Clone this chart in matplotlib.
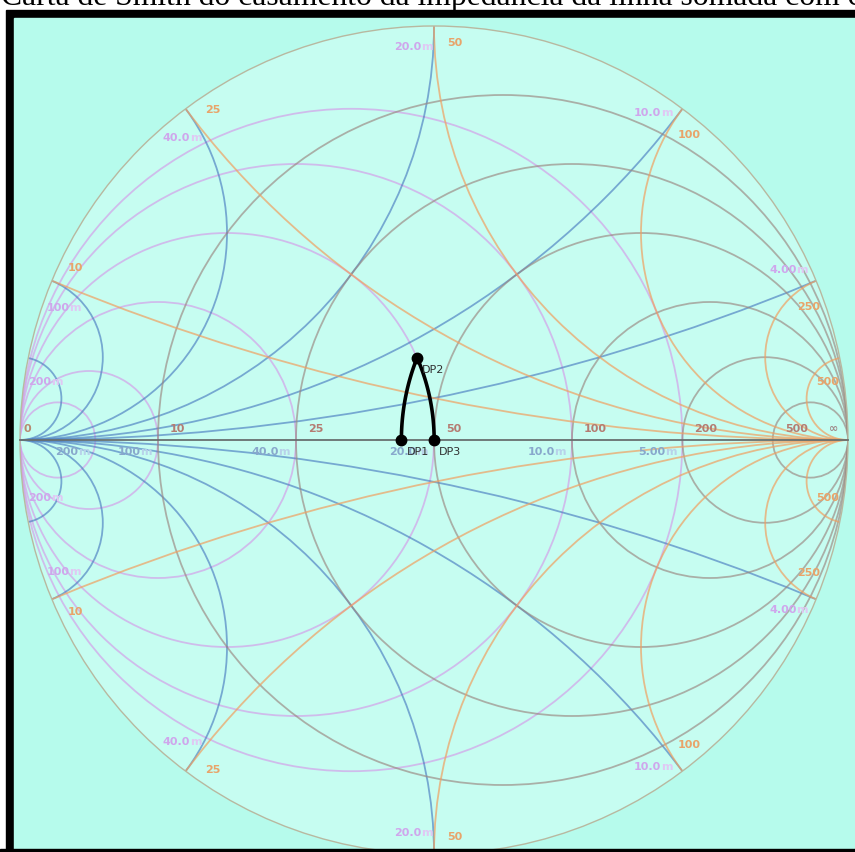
import numpy as np
import matplotlib.pyplot as plt
from matplotlib.patches import Circle, Rectangle
from matplotlib.offsetbox import TextArea, HPacker, AnnotationBbox

Z0 = 50.0

# impedance grid (ohm)
res_ohm = [10, 25, 50, 100, 200, 500]
res_txt = ['10', '25', '50', '100', '200', '500']
react_ohm = [10, 25, 50, 100, 250, 500]
react_txt = ['10', '25', '50', '100', '250', '500']

# admittance grid (mS)
cond_ms = [200, 100, 40, 20, 10, 5]
cond_txt = ['200', '100', '40.0', '20.0', '10.0', '5.00']
susc_ms = [200, 100, 40, 20, 10, 4]
susc_txt = ['200', '100', '40.0', '20.0', '10.0', '4.00']

# matching path (ohm)
dp_names = ['DP1', 'DP2', 'DP3']
dp_z = [42.7 + 0j, 42.7 + 17.7j, 50 + 0j]

caption = 'Carta de Smith do casamento da impedância da linha somada com c'

W, H = 855, 852
CX, CY, R = 434, 440, 414   # chart centre and radius, pixels


def gamma(z):
    zn = np.asarray(z) / Z0
    return (zn - 1) / (zn + 1)


fig = plt.figure(figsize=(W / 100, H / 100), dpi=100)

# page behind the chart: caption and black frame
bg = fig.add_axes([0, 0, 1, 1])
bg.set_xlim(0, W)
bg.set_ylim(H, 0)
bg.axis('off')
bg.add_patch(Rectangle((6, 10), W, H, color='black'))
bg.add_patch(Rectangle((14, 18), W, 831, color='#b6fbec'))
bg.text(1, 5, caption, family='Liberation Serif', fontsize=22.8,
        ha='left', va='baseline', color='black')

ax = fig.add_axes([0, 0, 1, 1])
ax.set_xlim(-CX / R, (W - CX) / R)
ax.set_ylim(-(H - CY) / R, CY / R)
ax.axis('off')

disk = Circle((0, 0), 1, facecolor='#c6fdf1', edgecolor='none', zorder=0)
ax.add_patch(disk)


def grid_circle(cx, cy, rad, color, alpha):
    c = Circle((cx, cy), rad, fill=False, edgecolor=color, lw=1.3,
               alpha=alpha, zorder=2)
    ax.add_patch(c)
    c.set_clip_path(disk)


for g in cond_ms:
    gn = g * 1e-3 * Z0
    grid_circle(-gn / (1 + gn), 0, 1 / (1 + gn), '#d49ae8', 0.65)
for b in susc_ms:
    bn = b * 1e-3 * Z0
    for s in (1, -1):
        grid_circle(-1, s / bn, 1 / bn, '#4a7cc0', 0.65)
for r in res_ohm:
    rn = r / Z0
    grid_circle(rn / (1 + rn), 0, 1 / (1 + rn), '#9a8680', 0.65)
for x in react_ohm:
    xn = x / Z0
    for s in (1, -1):
        grid_circle(1, s / xn, 1 / xn, '#f0a060', 0.7)

ax.add_patch(Circle((0, 0), 1, fill=False, edgecolor='#b8b8a0', lw=1.0, zorder=3))
ax.plot([-1, 1], [0, 0], color='#687070', lw=1.3, zorder=3)

lab = dict(fontsize=8, fontweight='bold', family='DejaVu Sans', zorder=5)

# resistance values along the real axis
ax.text(-1 + 4 / R, 11 / R, '0', color='#b88a70', ha='left', va='center', **lab)
for r, t in zip(res_ohm, res_txt):
    ax.text(gamma(r).real + 12 / R, 11 / R, t, color='#b47c72',
            ha='left', va='center', **lab)
ax.text(1 - 10 / R, 11 / R, '∞', color='#a08a8a', ha='right', va='center', **lab)


def two_tone(x, y, num, c1, c2, align):
    parts = [TextArea(num, textprops=dict(color=c1, fontsize=8, fontweight='bold')),
             TextArea('m', textprops=dict(color=c2, fontsize=8, fontweight='bold'))]
    box = HPacker(children=parts, pad=0, sep=0, align='baseline')
    ab = AnnotationBbox(box, (x, y), frameon=False, pad=0,
                        box_alignment=(align, 0.5), zorder=5)
    ax.add_artist(ab)


# conductance values below the real axis
for g, t in zip(cond_ms, cond_txt):
    gn = g * 1e-3 * Z0
    two_tone((1 - gn) / (1 + gn) - 6 / R, -12 / R, t, '#88a8cc', '#b8d2ea', 1.0)

# reactance values on the rim
for x, t in zip(react_ohm, react_txt):
    th = np.angle(gamma(1j * x))
    for s in (1, -1):
        a = s * (th - np.radians(3))
        ax.text(0.96 * np.cos(a), 0.96 * np.sin(a), t, color='#e8a46a',
                ha='center', va='center', **lab)

# susceptance values on the rim
for b, t in zip(susc_ms, susc_txt):
    bn = b * 1e-3 * Z0
    th = np.angle((1 + 1j * bn) / (1 - 1j * bn))
    for s in (1, -1):
        a = s * (th + np.radians(3))
        two_tone(0.95 * np.cos(a), 0.95 * np.sin(a), t, '#cfa6ec', '#e0c8f4', 0.5)

# matching path: series reactance then shunt susceptance
z1, z2, z3 = dp_z
xs = np.linspace(z1.imag, z2.imag, 80)
p1 = gamma(z1.real + 1j * xs)
y2 = 1 / z2
bs = np.linspace(y2.imag, (1 / z3).imag, 80)
p2 = gamma(1 / (y2.real + 1j * bs))
ax.plot(p1.real, p1.imag, color='black', lw=2.6, zorder=6)
ax.plot(p2.real, p2.imag, color='black', lw=2.6, zorder=6)
pts = gamma(dp_z)
ax.plot(pts.real, pts.imag, 'o', color='black', ms=7.5, zorder=7)
for name, p in zip(dp_names, pts):
    ax.text(p.real + 5 / R, p.imag - 12 / R, name, fontsize=8,
            color='#303030', ha='left', va='center', zorder=7)

# bottom edge of the frame sits over the chart
ax.add_patch(Rectangle((0, 849), W, 4, color='black', transform=bg.transData, zorder=10))

fig.savefig('out.png', dpi=100)
